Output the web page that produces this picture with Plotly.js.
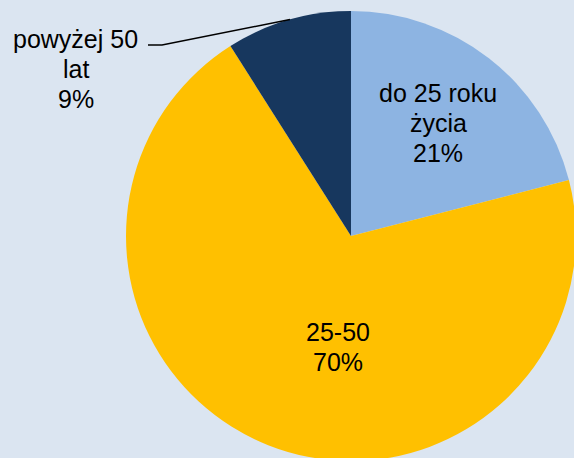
<!DOCTYPE html>
<html>
<head>
<meta charset="utf-8">
<script src="https://cdn.plot.ly/plotly-3.0.1.min.js"></script>
<style>
html, body { margin: 0; padding: 0; overflow: hidden; background: #dbe5f1; }
#chart { width: 580px; height: 470px; }
</style>
</head>
<body>
<div id="chart"></div>
<script>
// Data
var labels = ["do 25 roku<br>życia", "25-50", "powyżej 50<br>lat"];
var values = [21, 70, 9];
var colors = ["#8db4e2", "#ffc000", "#17375e"];

var W = 580, H = 470;
function px(x) { return x / W; }
function py(y) { return 1 - y / H; }

var total = values.reduce(function (a, b) { return a + b; }, 0);

// label line positions (x center, first baseline) in pixels
var labelPos = [
  {x: 438, y: 101},
  {x: 338, y: 340},
  {x: 75.5, y: 46.5}
];
var lineGap = 30;
var fontSize = 25;

var annotations = [];
labels.forEach(function (lab, i) {
  var lines = lab.split("<br>");
  lines.push(Math.round(values[i] / total * 100) + "%");
  lines.forEach(function (ln, j) {
    annotations.push({
      text: ln,
      xref: "paper", yref: "paper",
      x: px(labelPos[i].x),
      y: py(labelPos[i].y + j * lineGap - 8),
      xanchor: "center", yanchor: "middle",
      showarrow: false,
      font: {family: "Liberation Sans, Arial, sans-serif", size: fontSize, color: "#000000"}
    });
  });
});

var cx = 351, cy = 236, r = 225;

Plotly.newPlot("chart", [{
  type: "pie",
  labels: labels,
  values: values,
  sort: false,
  direction: "clockwise",
  rotation: 0,
  marker: {colors: colors, line: {width: 0}},
  textinfo: "none",
  hoverinfo: "none",
  showlegend: false,
  domain: {x: [px(cx - r), px(cx + r)], y: [py(cy + r), py(cy - r)]}
}], {
  width: W, height: H,
  margin: {l: 0, r: 0, t: 0, b: 0, pad: 0},
  paper_bgcolor: "#dbe5f1",
  plot_bgcolor: "#dbe5f1",
  showlegend: false,
  annotations: annotations,
  shapes: [{
    type: "path",
    xref: "paper", yref: "paper",
    path: "M " + px(148) + " " + py(45) + " L " + px(162) + " " + py(45) + " L " + px(290) + " " + py(19.5),
    line: {color: "#000000", width: 1.5}
  }]
}, {staticPlot: true});
</script>
</body>
</html>
